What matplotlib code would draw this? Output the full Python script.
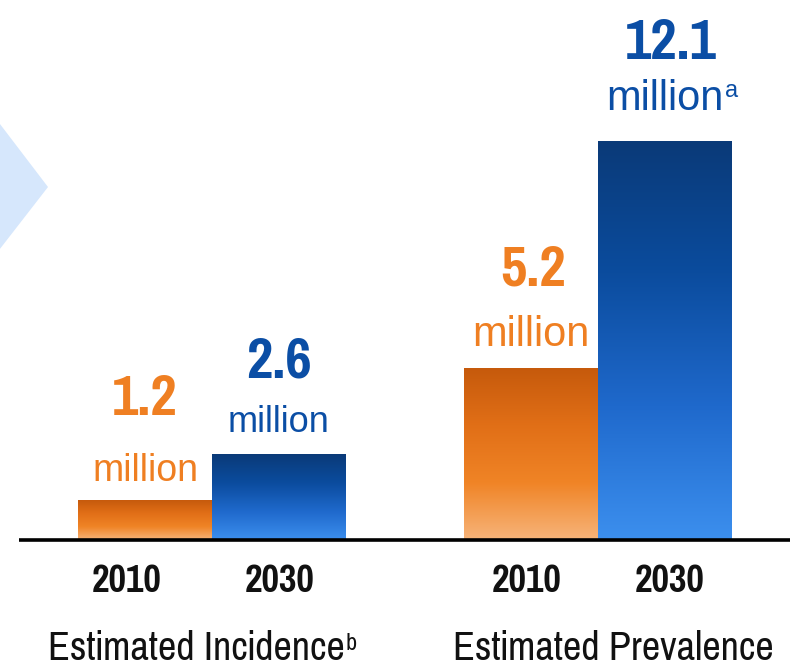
import matplotlib
matplotlib.use("Agg")
import numpy as np
import matplotlib.pyplot as plt
from matplotlib.colors import LinearSegmentedColormap
from matplotlib.patches import Polygon

# ---------------- data ----------------
groups = ["Estimated Incidence", "Estimated Prevalence"]
group_marks = ["b", ""]
years = ["2010", "2030"]
incidence = [1.2, 2.6]          # millions
prevalence = [5.2, 12.1]        # millions
value_marks = ["", "", "", "a"]  # superscript after "million"

values = incidence + prevalence
year_labels = years + years

# ---------------- layout ----------------
W, H = 794, 668
PX_PER_UNIT = 33.0      # vertical pixels per million
BASE_PX = 540           # baseline y (pixels from top)
BAR_W_PX = 134
X0_PX = 145             # centre of first bar
positions = [0.0, 1.0, 2.88, 3.88]          # bar centres in bar-width units
num_off_px = [85, 77, 83, 82]               # number baseline above bar top
mil_off_px = [19, 22, 22, 31]               # "million" baseline above bar top
mil_size = [27, 26, 30, 30]
num_dx_px = [0, 0, 2, 6]
year_x_px = [127, 280, 527, 670]
group_x_px = [196, 613]

ORANGE_TXT = "#EF7F22"
BLUE_TXT = "#0B4EA5"
orange_stops = ["#F7B47A", "#F08426", "#E16F17", "#C65A0C"]   # bottom -> top
blue_stops = ["#3C8FEE", "#1F69CC", "#0B4C9E", "#0A3A78"]     # bottom -> top
bar_stops = [orange_stops, blue_stops, orange_stops, blue_stops]
txt_colors = [ORANGE_TXT, BLUE_TXT, ORANGE_TXT, BLUE_TXT]

NUM_FONT = ["Pragati Narrow", "Roboto Condensed", "DejaVu Sans"]
MIL_FONT = ["Liberation Sans", "DejaVu Sans"]

fig = plt.figure(figsize=(W / 100, H / 100), dpi=100)
fig.patch.set_facecolor("white")
ax = fig.add_axes([0, 0, 1, 1])
ax.set_axis_off()

xlim = ((0 - X0_PX) / BAR_W_PX, (W - X0_PX) / BAR_W_PX)
ylim = ((BASE_PX - H) / PX_PER_UNIT, BASE_PX / PX_PER_UNIT)


def px2x(px):
    return (px - X0_PX) / BAR_W_PX


def py2y(py):
    return (BASE_PX - py) / PX_PER_UNIT


# light-blue chevron at the left edge (decoration)
chev = Polygon([(-0.05, 1 - 72 / H), (48 / W, 1 - 187 / H), (-0.05, 1 - 300 / H)],
               closed=True, transform=fig.transFigure, facecolor="#D6E7FC",
               edgecolor="none", zorder=0)
fig.patches.append(chev)

# bars with vertical gradients
bars = ax.bar(positions, values, width=1.0, facecolor="none", edgecolor="none", zorder=2)
grad = np.linspace(0, 1, 256).reshape(-1, 1)
for b, stops in zip(bars, bar_stops):
    x, y = b.get_xy()
    w, h = b.get_width(), b.get_height()
    cmap = LinearSegmentedColormap.from_list("g", stops)
    im = ax.imshow(grad, extent=[x, x + w, y, y + h], origin="lower",
                   cmap=cmap, aspect="auto", zorder=2, interpolation="bicubic")
    im.set_clip_path(b)

# baseline
ax.plot([px2x(19), px2x(790)], [0, 0], color="black", lw=2.6,
        solid_capstyle="butt", zorder=3)

ax.set_xlim(*xlim)
ax.set_ylim(*ylim)

# value labels
mil_texts = []
for i, v in enumerate(values):
    ax.annotate(f"{v:.1f}", xy=(positions[i], v),
                xytext=(num_dx_px[i] * 0.72, num_off_px[i] * 0.72),
                textcoords="offset points", ha="center", va="baseline",
                fontsize=45, fontweight="bold", family=NUM_FONT,
                color=txt_colors[i])
    t = ax.annotate("million", xy=(positions[i], v),
                    xytext=(0, mil_off_px[i] * 0.72),
                    textcoords="offset points", ha="center", va="baseline",
                    fontsize=mil_size[i], family=MIL_FONT, color=txt_colors[i])
    mil_texts.append(t)

# year labels
for xp, lab in zip(year_x_px, year_labels):
    ax.text(px2x(xp), py2y(592), lab, ha="center", va="baseline",
            fontsize=30, fontweight="bold", family=NUM_FONT, color="#111111")

# group labels
grp_texts = []
for xp, lab in zip(group_x_px, groups):
    t = ax.text(px2x(xp), py2y(660), lab, ha="center", va="baseline",
                fontsize=31.5, family=NUM_FONT, color="#111111")
    grp_texts.append(t)

# superscripts placed right after their texts
fig.canvas.draw()
renderer = fig.canvas.get_renderer()
inv = ax.transData.inverted()
for i, (t, mark, col) in enumerate(zip(mil_texts, value_marks, txt_colors)):
    if mark:
        bb = t.get_window_extent(renderer)
        x_end = inv.transform((bb.x1 + 1, 0))[0]
        ax.annotate(mark, xy=(x_end, values[i]), xytext=(0, (mil_off_px[i] + 13) * 0.72),
                    textcoords="offset points", ha="left", va="baseline",
                    fontsize=17, family=MIL_FONT, color=col)
for t, mark in zip(grp_texts, group_marks):
    if mark:
        bb = t.get_window_extent(renderer)
        x_end = inv.transform((bb.x1 + 1, 0))[0]
        ax.text(x_end, py2y(650), mark, ha="left", va="baseline",
                fontsize=19, family=NUM_FONT, color="#111111")

fig.savefig("out.png", dpi=100)
